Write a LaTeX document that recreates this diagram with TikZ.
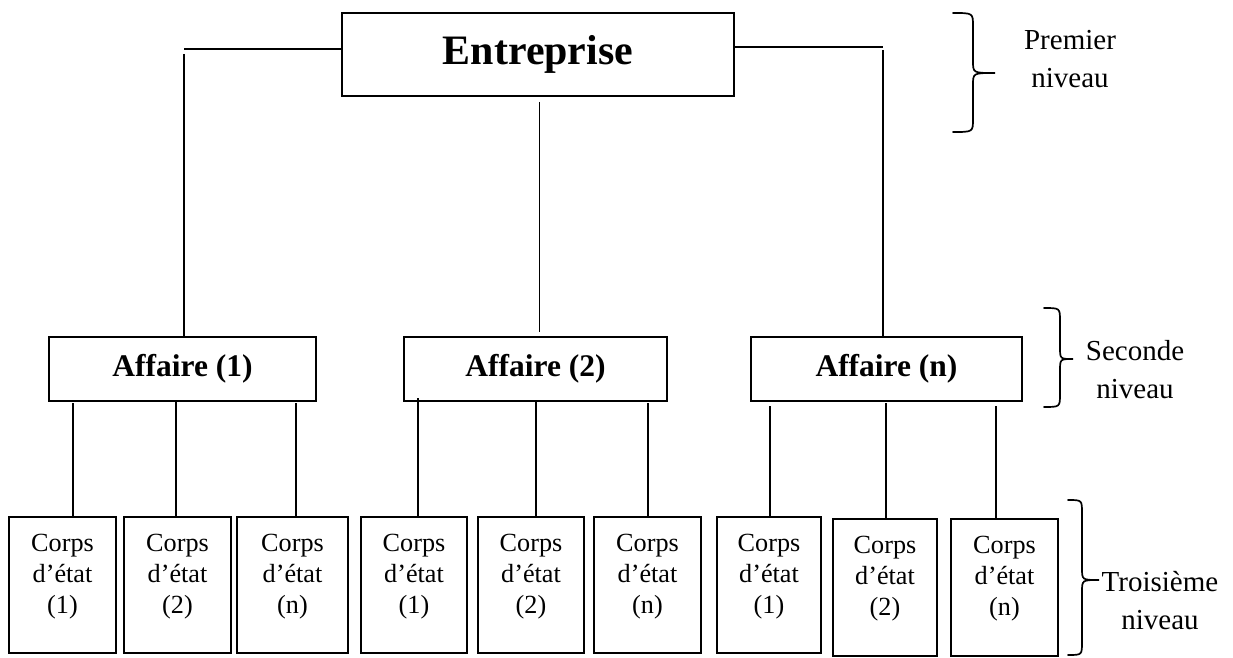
\documentclass[tikz,border=0pt]{standalone}
\usepackage{fontspec}
\setmainfont{Liberation Serif}

% curly brace drawn by hand: x of hooks, x of stem, x of tip, y top, y tip, y bottom
\newcommand\levelbrace[6]{%
  \draw[bracestyle] (#1,#4) .. controls (#2,#4) .. (#2,#4+13)
    -- (#2,#5-12) .. controls (#2,#5) .. (#3,#5)
    .. controls (#2,#5) .. (#2,#5+12)
    -- (#2,#6-13) .. controls (#2,#6) .. (#1,#6);}

\begin{document}
\begin{tikzpicture}[x=0.5pt,y=-0.5pt,
  box/.style={draw, line width=1pt, rectangle, inner sep=0pt},
  topbox/.style={box, minimum width=196pt, minimum height=41.5pt,
    font=\fontsize{20.95}{25}\selectfont\bfseries},
  affbox/.style={box, minimum height=32pt, text height=11pt, text depth=3.4pt,
    font=\fontsize{15.75}{19}\selectfont\bfseries},
  corpsbox/.style={box, minimum height=68pt},
  ctext/.style={anchor=north, inner sep=0pt, align=center,
    font=\fontsize{13.1}{15.5}\selectfont},
  lvl/.style={anchor=north, inner sep=0pt, align=center,
    font=\fontsize{14.5}{19}\selectfont},
  conn/.style={line width=0.9pt},
  bracestyle/.style={line width=0.85pt, line cap=round}]
\useasboundingbox (0,0) rectangle (1233,658);

% first level
\node[topbox] (ent) at (538,54.5) {Entreprise};

% second level
\node[affbox, minimum width=133.5pt] (aff1) at (182.5,369) {Affaire (1)};
\node[affbox, minimum width=131.5pt] (aff2) at (535.5,368.5) {Affaire (2)};
\node[affbox, minimum width=135.5pt] (affn) at (886.5,368.5) {Affaire (n)};

% third level
\node[corpsbox, minimum width=53.5pt] (c11) at (62.5,585) {};
\node[corpsbox, minimum width=53.5pt] (c12) at (177.5,585) {};
\node[corpsbox, minimum width=55.5pt] (c1n) at (292.5,585) {};
\node[corpsbox, minimum width=53pt]   (c21) at (414,585) {};
\node[corpsbox, minimum width=53pt]   (c22) at (531,585) {};
\node[corpsbox, minimum width=53.5pt] (c2n) at (647.5,585) {};
\node[corpsbox, minimum width=52pt]   (c31) at (769,585) {};
\node[corpsbox, minimum width=52pt, minimum height=68.5pt] (c32) at (885,587.5) {};
\node[corpsbox, minimum width=53.5pt, minimum height=68.5pt] (c3n) at (1004.5,587.5) {};

\node[ctext] (t11) at ([yshift=-9pt]c11.north) {Corps\\d’état\\(1)};
\node[ctext] (t12) at ([yshift=-9pt]c12.north) {Corps\\d’état\\(2)};
\node[ctext] (t1n) at ([yshift=-9pt]c1n.north) {Corps\\d’état\\(n)};
\node[ctext] (t21) at ([yshift=-9pt]c21.north) {Corps\\d’état\\(1)};
\node[ctext] (t22) at ([yshift=-9pt]c22.north) {Corps\\d’état\\(2)};
\node[ctext] (t2n) at ([yshift=-9pt]c2n.north) {Corps\\d’état\\(n)};
\node[ctext] (t31) at ([yshift=-9pt]c31.north) {Corps\\d’état\\(1)};
\node[ctext] (t32) at ([yshift=-9pt]c32.north) {Corps\\d’état\\(2)};
\node[ctext] (t3n) at ([yshift=-9pt]c3n.north) {Corps\\d’état\\(n)};

% connectors from the company to the projects
\coordinate (eL) at (184,49);
\coordinate (eLv) at (184,54);
\draw[conn] (ent.west |- eL) -- (eL);
\draw[conn] (eLv) -- (eLv |- aff1.north);
\coordinate (eR) at (883,47);
\coordinate (eRv) at (883,50);
\draw[conn] (ent.east |- eR) -- (eR);
\draw[conn] (eRv) -- (eRv |- affn.north);
\coordinate (eMt) at (539.5,102);
\coordinate (eMb) at (539.5,332);
\draw[conn] (eMt) -- (eMb);

% connectors from each project to its trades
\coordinate (s11) at (72.7,403);
\coordinate (s12) at (176,401);
\coordinate (s1n) at (295.7,403);
\coordinate (s21) at (418,398);
\coordinate (s22) at (535.7,400);
\coordinate (s2n) at (647.7,403);
\coordinate (s31) at (770,406);
\coordinate (s32) at (885.7,403);
\coordinate (s3n) at (996,406);
\draw[conn] (s11) -- (s11 |- c11.north);
\draw[conn] (s12) -- (s12 |- c12.north);
\draw[conn] (s1n) -- (s1n |- c1n.north);
\draw[conn] (s21) -- (s21 |- c21.north);
\draw[conn] (s22) -- (s22 |- c22.north);
\draw[conn] (s2n) -- (s2n |- c2n.north);
\draw[conn] (s31) -- (s31 |- c31.north);
\draw[conn] (s32) -- (s32 |- c32.north);
\draw[conn] (s3n) -- (s3n |- c3n.north);

% level braces and their labels
\levelbrace{953}{973}{995}{13}{73}{132}
\levelbrace{1044}{1060}{1073}{308}{359}{407}
\levelbrace{1068}{1082}{1099}{500}{580}{655}
\node[lvl] (l1) at (1070,29.5) {Premier\\niveau};
\node[lvl] (l2) at (1135,339.5) {Seconde\\niveau};
\node[lvl] (l3) at (1160,570.5) {Troisième\\niveau};
\end{tikzpicture}
\end{document}
